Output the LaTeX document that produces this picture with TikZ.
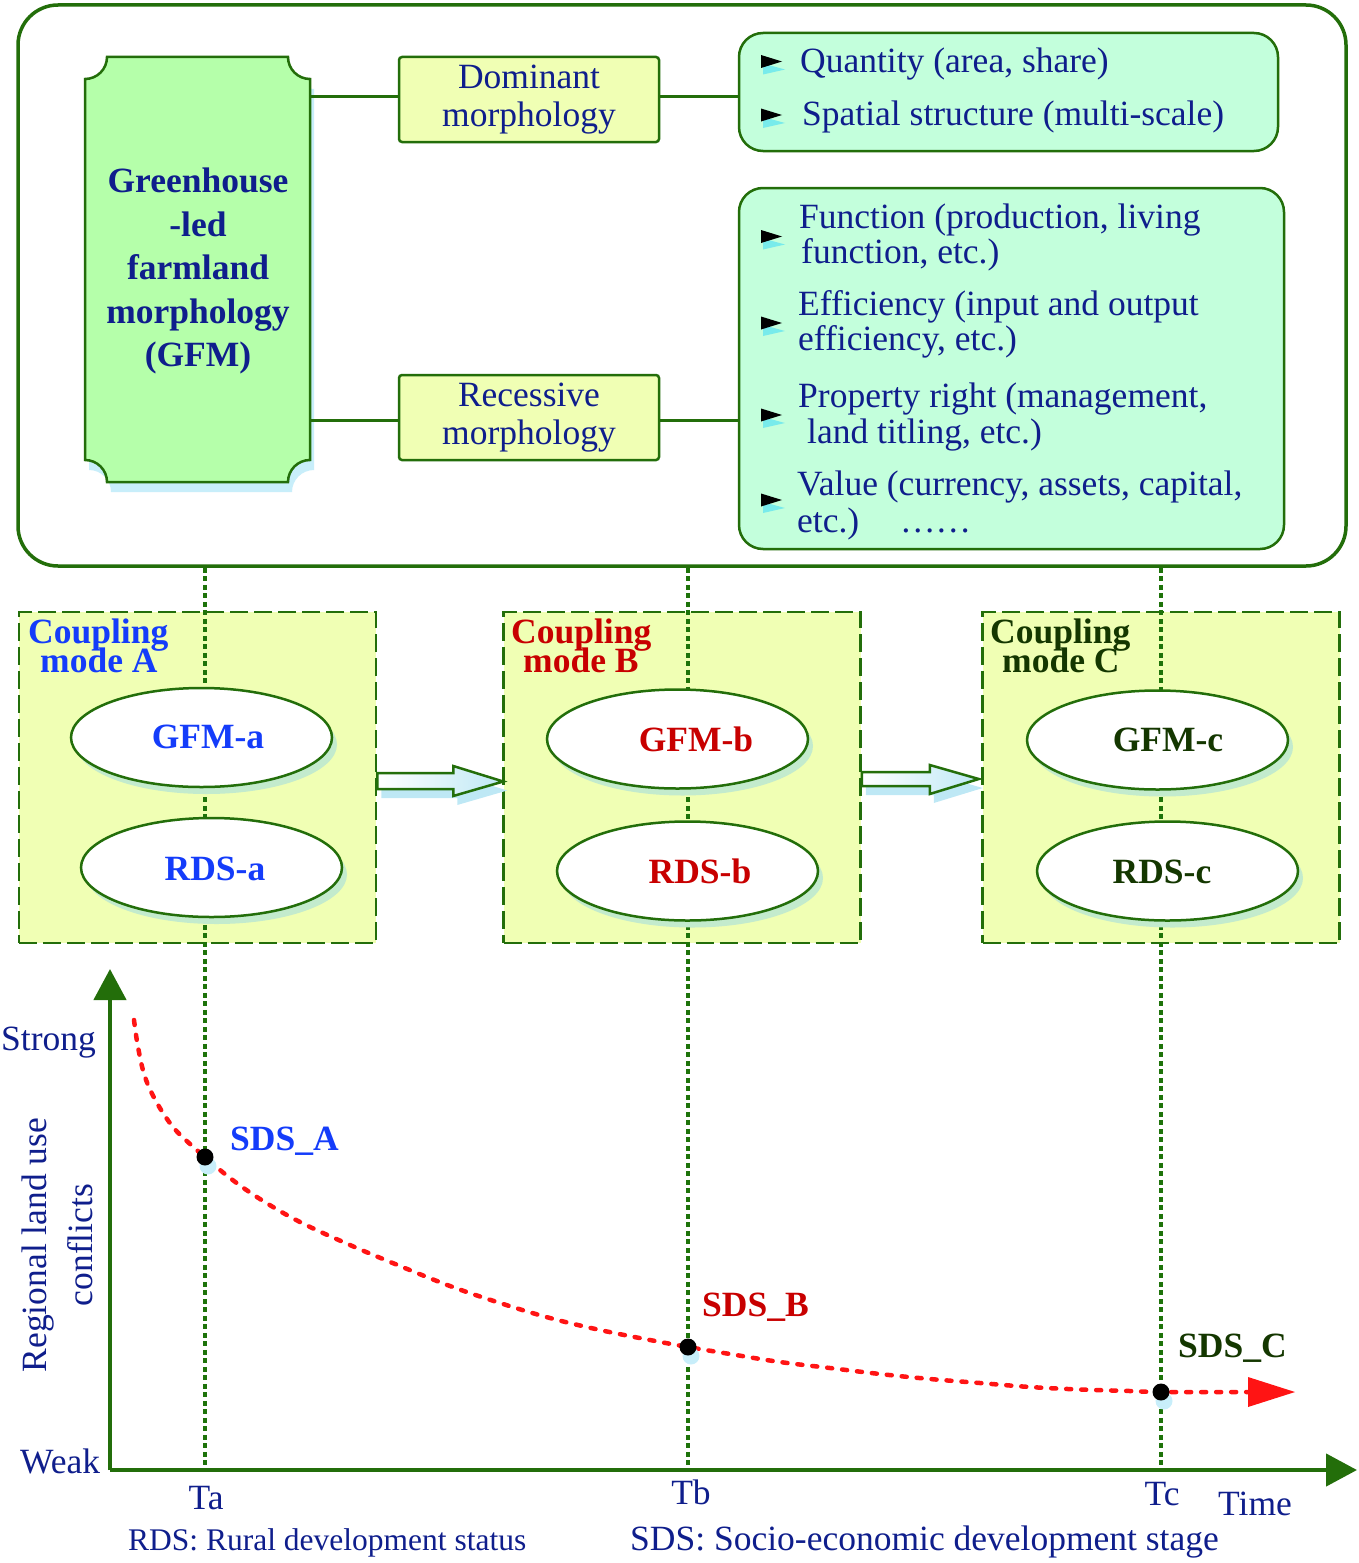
\documentclass[tikz,border=0pt]{standalone}
\usepackage{fontspec}
\setmainfont{Liberation Serif}
\usetikzlibrary{shapes.geometric,shadows,arrows.meta}
\definecolor{dgreen}{RGB}{35,110,10}
\definecolor{navy}{RGB}{15,30,140}
\definecolor{ablue}{RGB}{20,60,250}
\definecolor{bred}{RGB}{200,0,0}
\definecolor{cgreen}{RGB}{20,55,0}
\definecolor{gfmfill}{RGB}{181,255,170}
\definecolor{yfill}{RGB}{240,255,180}
\definecolor{mfill}{RGB}{195,255,220}
\definecolor{shblue}{RGB}{200,238,250}
\definecolor{arrblue}{RGB}{190,232,245}
\definecolor{shgreen}{RGB}{195,235,205}
\definecolor{curvered}{RGB}{255,20,20}
\definecolor{dotgreen}{RGB}{30,115,10}
\definecolor{bulcyan}{RGB}{120,235,235}
\newcommand{\fsz}{\fontsize{35.5}{36}\selectfont}
\begin{document}
\begin{tikzpicture}[x=1pt,y=1pt,
  txt/.style={font=\fsz, text=navy, inner sep=0pt, anchor=base west},
  outerbox/.style={draw=dgreen, line width=3.5pt, fill=white, rounded corners=40pt, minimum width=1328pt, minimum height=561pt, inner sep=0pt},
  bulletbox/.style={draw=dgreen, line width=2.5pt, fill=mfill, rounded corners=24pt, inner sep=0pt},
  morphbox/.style={draw=dgreen, line width=2.5pt, fill=yfill, rounded corners=3pt, minimum width=260pt, minimum height=85pt, align=center, font=\fontsize{35.5}{38.5}\selectfont, text=navy, inner sep=0pt},
  conn/.style={draw=dgreen, line width=3pt},
  modebox/.style={draw=dgreen, line width=2.5pt, dash pattern=on 18pt off 6pt, fill=yfill, minimum width=357pt, minimum height=331pt, inner sep=0pt},
  ell/.style={ellipse, draw=dgreen, line width=2.5pt, fill=white, minimum width=261pt, minimum height=99pt, inner sep=0pt,
     drop shadow={shadow xshift=5pt, shadow yshift=-7pt, fill=shgreen, opacity=1}},
  elltxt/.style={font=\fsz\bfseries, inner sep=0pt, anchor=base},
  modetxt/.style={font=\fsz\bfseries, inner sep=0pt, anchor=base west},
  guide/.style={draw=dotgreen, line width=3.5pt, dash pattern=on 5pt off 3.5pt},
  hollow/.style={draw=dgreen, line width=2.5pt, left color=white, right color=arrblue},
  hollowsh/.style={fill=arrblue, draw=none},
  axis/.style={draw=dgreen, line width=4.5pt, -{Triangle[length=31pt,width=32pt]}},
  dot/.style={circle, fill=black, minimum size=17pt, inner sep=0pt},
  dotsh/.style={circle, fill=shblue, minimum size=17pt, inner sep=0pt},
  sdstxt/.style={font=\fsz\bfseries, inner sep=0pt, anchor=base west},
  foot/.style={font=\fontsize{31.5}{36}\selectfont, text=navy, inner sep=0pt, anchor=base west},
]
\useasboundingbox (0,0) rectangle (1358,-1563);

% ---------- top panel ----------
\node[outerbox] (outer) at (682,-285.5) {};

% GFM box (concave corners)
\fill[shblue, shift={(4,-10)}] (107,-57) -- (288,-57) arc[start angle=180, end angle=270, radius=22] -- (310,-460) arc[start angle=90,end angle=180,radius=22] -- (107,-482) arc[start angle=0, end angle=90, radius=22] -- (85,-79) arc[start angle=270, end angle=360, radius=22] -- cycle;
\draw[dgreen, line width=2.5pt, fill=gfmfill] (107,-57) -- (288,-57) arc[start angle=180, end angle=270, radius=22] -- (310,-460) arc[start angle=90,end angle=180,radius=22] -- (107,-482) arc[start angle=0, end angle=90, radius=22] -- (85,-79) arc[start angle=270, end angle=360, radius=22] -- cycle;
\node[minimum width=225pt, minimum height=425pt, inner sep=0pt] (gfm) at (197.5,-269.5) {};
\node[font=\fontsize{35.5}{43.5}\selectfont\bfseries, text=navy, align=center, inner sep=0pt] (gfmtxt) at (198,-271) {Greenhouse\\-led\\farmland\\morphology\\(GFM)};

\node[morphbox] (dom) at (529,-99.5) {Dominant\\morphology};
\node[morphbox] (rec) at (529,-417.5) {Recessive\\morphology};

\node[bulletbox, minimum width=539pt, minimum height=118pt] (box1) at (1008.5,-92) {};
\node[bulletbox, minimum width=545pt, minimum height=361pt] (box2) at (1011.5,-368.5) {};

\draw[conn] ([yshift=3.5pt]dom.west) -- ([yshift=3.5pt]dom.west -| gfm.east);
\draw[conn] ([yshift=3.5pt]dom.east) -- ([yshift=3.5pt]dom.east -| box1.west);
\draw[conn] ([yshift=-2.5pt]rec.west) -- ([yshift=-2.5pt]rec.west -| gfm.east);
\draw[conn] ([yshift=-2.5pt]rec.east) -- ([yshift=-2.5pt]rec.east -| box2.west);

% bullets
\foreach \c in {61.5,115,236.5,323,415,500}{
  \fill[bulcyan] (763,-\c-2) -- (785,-\c-8) -- (763,-\c-13) -- cycle;
  \fill[black] (761,-\c+6.5) -- (782,-\c) -- (761,-\c-6.5) -- cycle;
}
\node[txt] (q1) at (800,-73) {Quantity (area, share)};
\node[txt] (q2) at (802,-125) {Spatial structure (multi-scale)};
\node[txt] (r1) at (799,-228) {Function (production, living};
\node[txt] (r1b) at (801,-263) {function, etc.)};
\node[txt] (r2) at (798,-315) {Efficiency (input and output};
\node[txt] (r2b) at (798,-350) {efficiency, etc.)};
\node[txt] (r3) at (798,-407) {Property right (management,};
\node[txt] (r3b) at (807,-443) {land titling, etc.)};
\node[txt] (r4) at (797,-495) {Value (currency, assets, capital,};
\node[txt] (r4b) at (797,-532) {etc.)};
\node[txt] (r4c) at (900,-532) {……};

% ---------- coupling modes ----------
\node[modebox] (ca) at (197.5,-777.5) {};
\node[modebox] (cb) at (682,-777.5) {};
\node[modebox] (cc) at (1161,-777.5) {};

\coordinate (ta) at (205,-1470);
\coordinate (tb) at (688,-1470);
\coordinate (tc) at (1161,-1470);
\draw[guide] (ta |- outer.south) -- (ta);
\draw[guide] (tb |- outer.south) -- (tb);
\draw[guide] (tc |- outer.south) -- (tc);

\node[modetxt, text=ablue] (ma1) at (28,-643) {Coupling};
\node[modetxt, text=ablue] (ma2) at (40,-672) {mode A};
\node[modetxt, text=bred] (mb1) at (511,-643) {Coupling};
\node[modetxt, text=bred] (mb2) at (523,-672) {mode B};
\node[modetxt, text=cgreen] (mc1) at (990,-643) {Coupling};
\node[modetxt, text=cgreen] (mc2) at (1002,-672) {mode C};

\node[ell] (ga) at (201.5,-737.5) {};
\node[ell] (ra) at (211.5,-867.5) {};
\node[ell] (gb) at (677.5,-739) {};
\node[ell] (rb) at (687.5,-871) {};
\node[ell] (gc) at (1157.5,-740) {};
\node[ell] (rc) at (1167.5,-871) {};
\node[elltxt, text=ablue] (gat) at (208,-748) {GFM-a};
\node[elltxt, text=ablue] (rat) at (215,-880) {RDS-a};
\node[elltxt, text=bred] (gbt) at (696,-751) {GFM-b};
\node[elltxt, text=bred] (rbt) at (700,-883) {RDS-b};
\node[elltxt, text=cgreen] (gct) at (1168,-751) {GFM-c};
\node[elltxt, text=cgreen] (rct) at (1162,-883) {RDS-c};

% hollow arrows between modes
\begin{scope}[shift={(ca.east)}]
  \fill[hollowsh, shift={(4,-9)}] (0,4.5) -- (76,4.5) -- (76,11.5) -- (126,-4) -- (76,-18.5) -- (76,-11.5) -- (0,-11.5) -- cycle;
  \path[hollow] (0,4.5) -- (76,4.5) -- (76,11.5) -- (126,-4) -- (76,-18.5) -- (76,-11.5) -- (0,-11.5) -- cycle;
\end{scope}
\begin{scope}[shift={(cb.east)}]
  \fill[hollowsh, shift={(4,-9)}] (0,5.5) -- (68,5.5) -- (68,12.5) -- (117,-1.5) -- (68,-16.5) -- (68,-8.5) -- (0,-8.5) -- cycle;
  \path[hollow] (0,5.5) -- (68,5.5) -- (68,12.5) -- (117,-1.5) -- (68,-16.5) -- (68,-8.5) -- (0,-8.5) -- cycle;
\end{scope}

% ---------- graph ----------
\coordinate (O) at (110,-1470);
\coordinate (ytop) at (110,-969);
\coordinate (xend) at (1357,-1470);
\draw[axis] (O) -- (ytop);
\draw[axis] (O) -- (xend);

\draw[curvered, line width=4.5pt, dash pattern=on 5pt off 10pt, line cap=round]
  plot[smooth, tension=0.6] coordinates {(134,-1020) (138,-1047) (145,-1077) (157,-1103) (173,-1127) (190,-1144) (205,-1157) (230,-1178) (260,-1199) (300,-1222) (350,-1245) (400,-1266) (450,-1286) (500,-1303) (550,-1318) (600,-1330) (650,-1340) (688,-1347) (730,-1354) (780,-1362) (830,-1368) (880,-1374) (930,-1379) (980,-1383) (1030,-1387) (1080,-1389.5) (1130,-1391) (1161,-1392) (1250,-1392)};
\coordinate (tip) at (1295,-1392);
\fill[curvered] (tip) -- (1248,-1377) -- (1248,-1407) -- cycle;

\node[dotsh] (sa) at (208,-1166) {};
\node[dotsh] (sb) at (691,-1356) {};
\node[dotsh] (sc) at (1164,-1401) {};
\node[dot] (pa) at (205,-1157) {};
\node[dot] (pb) at (688,-1347) {};
\node[dot] (pc) at (1161,-1392) {};

\node[sdstxt, text=ablue] (la) at (230,-1150) {SDS\_A};
\node[sdstxt, text=bred] (lb) at (702,-1316) {SDS\_B};
\node[sdstxt, text=cgreen] (lc) at (1178,-1357) {SDS\_C};

\node[txt] (strong) at (1,-1050) {Strong};
\node[txt] (weak) at (20,-1473) {Weak};
\node[font=\fsz, text=navy, inner sep=0pt, anchor=base, rotate=90] (ylab1) at (46,-1245) {Regional land use};
\node[font=\fsz, text=navy, inner sep=0pt, anchor=base, rotate=90] (ylab2) at (92,-1245) {conflicts};

\node[font=\fsz, text=navy, inner sep=0pt, anchor=base] (tat) at (206,-1509) {Ta};
\node[font=\fsz, text=navy, inner sep=0pt, anchor=base] (tbt) at (691,-1504) {Tb};
\node[font=\fsz, text=navy, inner sep=0pt, anchor=base] (tct) at (1162,-1505) {Tc};
\node[txt] (time) at (1218,-1515) {Time};

\node[foot] (f1) at (128,-1550) {RDS: Rural development status};
\node[txt] (f2) at (630,-1550) {SDS: Socio-economic development stage};
\end{tikzpicture}
\end{document}
